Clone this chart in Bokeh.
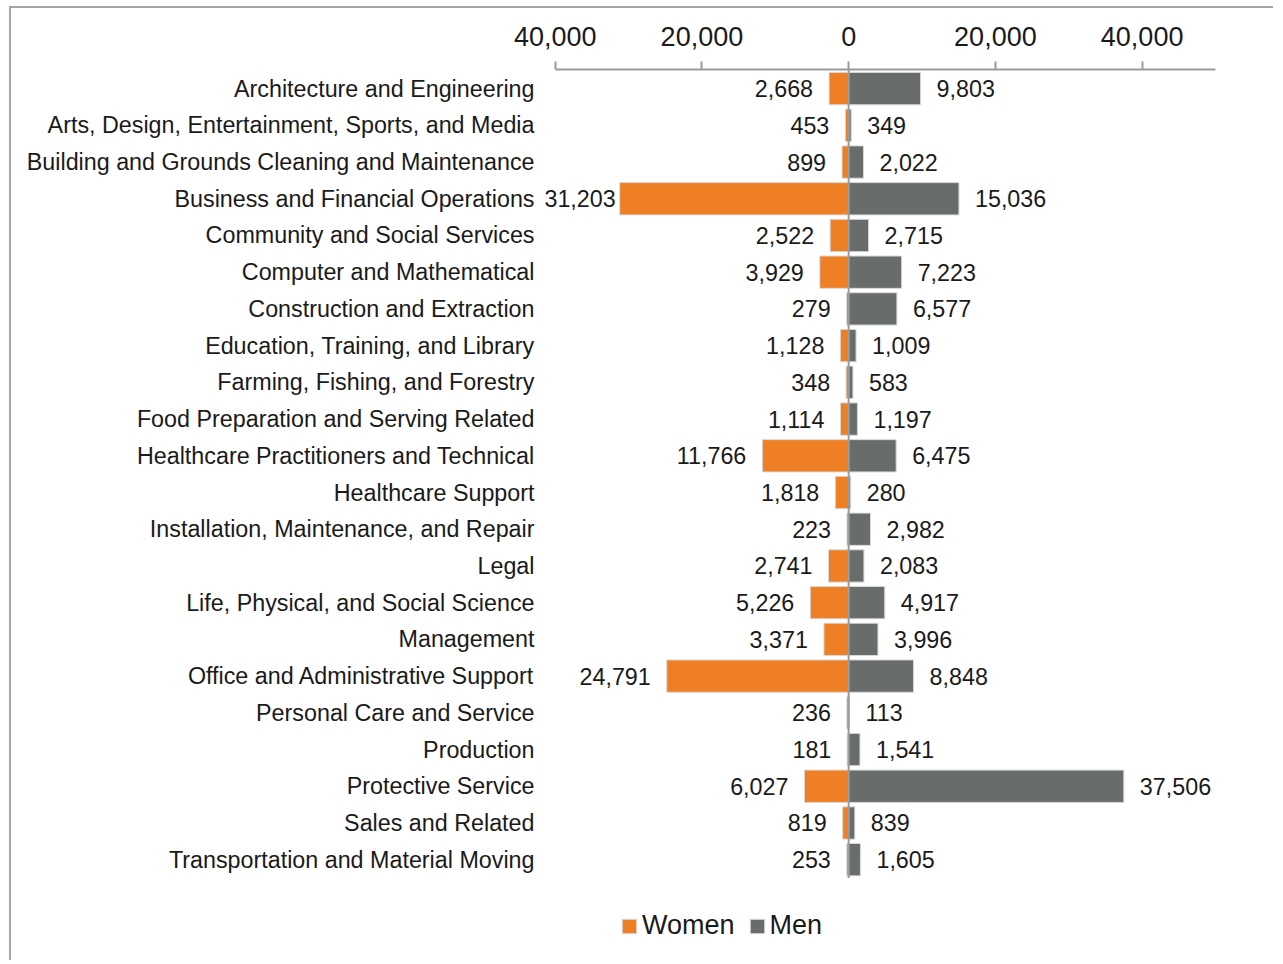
from bokeh.plotting import figure
from bokeh.models import (ColumnDataSource, Range1d, LabelSet,
                          Legend, LegendItem, FixedTicker)
from bokeh.core.properties import value
from bokeh.embed import file_html
from bokeh.resources import INLINE

categories = [
    "Architecture and Engineering",
    "Arts, Design, Entertainment, Sports, and Media",
    "Building and Grounds Cleaning and Maintenance",
    "Business and Financial Operations",
    "Community and Social Services",
    "Computer and Mathematical",
    "Construction and Extraction",
    "Education, Training, and Library",
    "Farming, Fishing, and Forestry",
    "Food Preparation and Serving Related",
    "Healthcare Practitioners and Technical",
    "Healthcare Support",
    "Installation, Maintenance, and Repair",
    "Legal",
    "Life, Physical, and Social Science",
    "Management",
    "Office and Administrative Support",
    "Personal Care and Service",
    "Production",
    "Protective Service",
    "Sales and Related",
    "Transportation and Material Moving",
]
women = [2668, 453, 899, 31203, 2522, 3929, 279, 1128, 348, 1114, 11766, 1818,
         223, 2741, 5226, 3371, 24791, 236, 181, 6027, 819, 253]
men = [9803, 349, 2022, 15036, 2715, 7223, 6577, 1009, 583, 1197, 6475, 280,
       2982, 2083, 4917, 3996, 8848, 113, 1541, 37506, 839, 1605]
x_ticks = [-40000, -20000, 0, 20000, 40000]
x_tick_labels = ["40,000", "20,000", "0", "20,000", "40,000"]
series_names = ["Women", "Men"]

ORANGE = "#ef7f24"
GRAY = "#686d6c"
FONT = "Liberation Sans"
AXIS_GRAY = "#9b9b9b"
TXT = "#1a1a1a"

n = len(categories)
AX_MIN, AX_MAX = -40000, 50000          # axis extent
X_VIEW_MIN = -42000                     # a bit of room for the long left label
Y_TOP = -0.52                           # view top (row index units)
Y_BOTTOM = Y_TOP + 24.32                # extra room below rows for legend

# label offsets: outside bar end, but kept inside the chart when too long
w_off = [-16 if w < 30000 else -4 for w in women]

src = ColumnDataSource(dict(
    idx=list(range(n)),
    wleft=[-w for w in women],
    zero=[0] * n,
    men=men,
    wlab=[f"{w:,}" for w in women],
    mlab=[f"{m:,}" for m in men],
    woff=w_off,
))

p = figure(width=1264, height=954,
           y_range=Range1d(Y_BOTTOM, Y_TOP),
           x_range=Range1d(X_VIEW_MIN, AX_MAX),
           x_axis_location="above",
           output_backend="svg", toolbar_location=None,
           min_border_left=529, min_border_right=60,
           min_border_top=61, min_border_bottom=0)
p.styles = {"border-top": "2px solid #a6a6a6", "border-left": "2px solid #a6a6a6",
            "margin-left": "9px", "margin-top": "6px"}
p.outline_line_color = None
p.xgrid.visible = False
p.ygrid.visible = False

rw = p.hbar(y="idx", left="wleft", right="zero", height=0.88, source=src,
            fill_color=ORANGE, line_color="#d8d8d8", line_width=1)
rm = p.hbar(y="idx", left="zero", right="men", height=0.88, source=src,
            fill_color=GRAY, line_color="#d8d8d8", line_width=1)

# zero line from the axis down to the bottom of the last row
p.segment(x0=[0], y0=[Y_TOP], x1=[0], y1=[n - 0.5],
          line_color=AXIS_GRAY, line_width=2, level="overlay")

p.add_layout(LabelSet(x="wleft", y="idx", text="wlab", x_offset="woff", source=src,
                      text_align="right", text_baseline="middle",
                      text_font=value(FONT), text_font_size="23.3px", text_color=TXT))
p.add_layout(LabelSet(x="men", y="idx", text="mlab", x_offset=16, source=src,
                      text_align="left", text_baseline="middle",
                      text_font=value(FONT), text_font_size="23.3px", text_color=TXT))

xa = p.xaxis[0]
xa.bounds = (AX_MIN, AX_MAX)
xa.ticker = FixedTicker(ticks=x_ticks)
xa.major_label_overrides = {t: l for t, l in zip(x_ticks, x_tick_labels)}
xa.axis_line_color = AXIS_GRAY
xa.axis_line_width = 2
xa.major_tick_line_color = AXIS_GRAY
xa.major_tick_line_width = 2
xa.major_tick_in = 0
xa.major_tick_out = 8
xa.minor_tick_line_color = None
xa.major_label_standoff = 16
xa.major_label_text_font = FONT
xa.major_label_text_font_size = "27px"
xa.major_label_text_color = TXT

ya = p.yaxis[0]
ya.ticker = FixedTicker(ticks=list(range(n)))
ya.major_label_overrides = {i: c for i, c in enumerate(categories)}
ya.axis_line_color = None
ya.major_tick_line_color = None
ya.minor_tick_line_color = None
ya.major_tick_out = 0
ya.major_tick_in = 0
ya.major_label_standoff = 6
ya.major_label_text_font = FONT
ya.major_label_text_font_size = "23.3px"
ya.major_label_text_color = TXT

legend = Legend(items=[LegendItem(label=series_names[0], renderers=[rw]),
                       LegendItem(label=series_names[1], renderers=[rm])],
                orientation="horizontal", location=(80, 21),
                glyph_width=18, glyph_height=18, label_standoff=4, spacing=13,
                padding=0, margin=0, border_line_color=None,
                background_fill_alpha=0,
                label_text_font=FONT, label_text_font_size="27px",
                label_text_color=TXT)
p.add_layout(legend, "center")

open("out.html", "w").write(file_html(p, INLINE))
